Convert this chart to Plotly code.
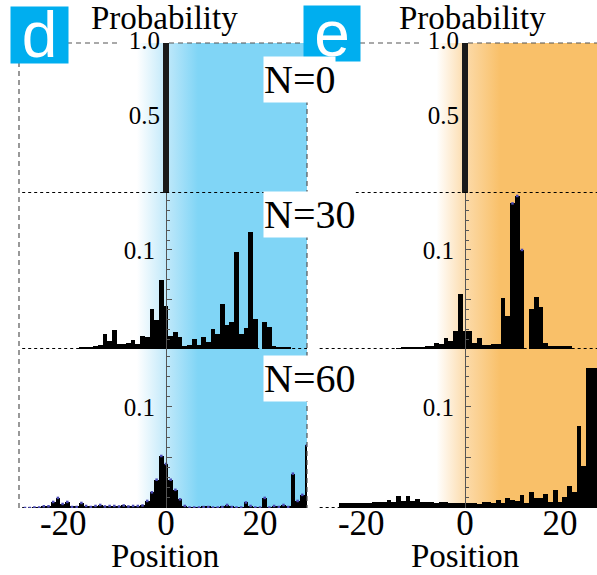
import plotly.graph_objects as go

W, H = 597, 575

# ---------------- data ----------------
pos_n0 = [0]
prob_n0 = [1.0]

pos_d30 = list(range(-18, 27))
prob_d30 = [0.002, 0.002, 0.0025, 0.003, 0.004, 0.0148, 0.0084, 0.019, 0.005, 0.005,
            0.0064, 0.009, 0.005, 0.013, 0.0125, 0.040, 0.029, 0.070, 0.043, 0.013,
            0.017, 0.012, 0.003, 0.004, 0.010, 0.004, 0.012, 0.007, 0.020, 0.015,
            0.045, 0.024, 0.027, 0.098, 0.015, 0.0216, 0.118, 0.030, 0.0, 0.0276,
            0.022, 0.003, 0.002, 0.002, 0.002]

pos_d60 = list(range(-30, 31))
prob_d60 = [0.0, 0.0, 0.0005, 0.0005, 0.0017, 0.0017, 0.006, 0.010, 0.004, 0.006,
            0.001, 0.001, 0.005, 0.002, 0.001, 0.002, 0.003, 0.0015, 0.002, 0.002,
            0.0015, 0.0025, 0.0015, 0.002, 0.002, 0.0025, 0.007, 0.0155, 0.028, 0.0515,
            0.0436, 0.028, 0.018, 0.0086, 0.002, 0.0005, 0.0005, 0.0005, 0.001, 0.001,
            0.0005, 0.0005, 0.001, 0.003, 0.001, 0.0005, 0.0005, 0.0055, 0.002, 0.0005,
            0.0005, 0.010, 0.0005, 0.002, 0.001, 0.003, 0.001, 0.034, 0.007, 0.013,
            0.062]

pos_e30 = list(range(-14, 23))
prob_e30 = [0.001, 0.0022, 0.0022, 0.0022, 0.0025, 0.0025, 0.003, 0.003, 0.0064, 0.0047,
            0.0108, 0.0084, 0.0185, 0.056, 0.0185, 0.0185, 0.0057, 0.011, 0.0037, 0.004,
            0.005, 0.005, 0.051, 0.0337, 0.147, 0.1545, 0.100, 0.0, 0.040, 0.053,
            0.0424, 0.0057, 0.003, 0.003, 0.003, 0.003, 0.003]

pos_e60 = list(range(-26, 29))
prob_e60 = [0.0046, 0.0046, 0.0046, 0.0046, 0.0046, 0.0046, 0.0046, 0.0056, 0.0056, 0.006,
            0.008, 0.006, 0.012, 0.007, 0.0115, 0.007, 0.0086, 0.006, 0.006, 0.0056,
            0.005, 0.0056, 0.0056, 0.005, 0.005, 0.0046, 0.0046, 0.0046, 0.0046, 0.0036,
            0.006, 0.006, 0.0046, 0.008, 0.0046, 0.0096, 0.008, 0.0066, 0.0125, 0.005,
            0.0158, 0.0096, 0.0096, 0.0135, 0.0063, 0.0175, 0.0063, 0.011, 0.0218, 0.016,
            0.081, 0.042, 0.139, 0.139, 0.139]

step_labels = ["N=0", "N=30", "N=60"]
panel_letters = ["d", "e"]
x_tickvals = [-20, 0, 20]
x_ticktext = ["-20\u2007", "0", "20"]
row1_ticks = [0.5, 1.0]
row1_ticktext = ["0.5", "1.0"]
small_ticks = [0.05, 0.1]
small_ticktext = ["", "0.1"]

# ---------------- styles / geometry ----------------
BLUE = "#80d5f6"
ORANGE = "#f9c069"
LETTER_BG = "#00aeef"
SERIF = "Liberation Serif"
SANS = "Liberation Sans"


def fx(px):
    return px / W


def fy(py):
    return 1 - py / H


panels = [
    dict(x0=19, x1=307, zero=166, scale=4.7, color=BLUE,
         g0=-6.2, g1=6.8, mid="#c2e9fa"),
    dict(x0=316, x1=597, zero=465, scale=4.75, color=ORANGE,
         g0=-6.0, g1=7.4, mid="#fcdaa8"),
]
for p in panels:
    p["range"] = [(p["x0"] - p["zero"]) / p["scale"], (p["x1"] - p["zero"]) / p["scale"]]

rows = [(43, 193), (193, 349), (349, 508)]
row_top = [1.0, 0.1575, 0.1574]

series = [
    [(pos_n0, prob_n0), (pos_d30, prob_d30), (pos_d60, prob_d60)],
    [(pos_n0, prob_n0), (pos_e30, prob_e30), (pos_e60, prob_e60)],
]

fig = go.Figure()
layout = {}

# background gradient subplots (x,y) and (x2,y2)
for k, p in enumerate(panels):
    sid = "" if k == 0 else "2"
    layout["xaxis" + sid] = dict(domain=[fx(p["x0"]), fx(p["x1"])], range=p["range"],
                                 visible=False, fixedrange=True, automargin=False)
    layout["yaxis" + sid] = dict(domain=[fy(508), fy(43)], range=[0, 1],
                                 visible=False, fixedrange=True, automargin=False)
    fig.add_trace(go.Scatter(
        x=[p["g0"], 40, 40, p["g0"], p["g0"]], y=[0, 0, 1, 1, 0],
        xaxis="x" + sid, yaxis="y" + sid, mode="lines", line=dict(width=0),
        fill="toself",
        fillgradient=dict(type="horizontal", start=p["g0"], stop=p["g1"],
                          colorscale=[[0, "#ffffff"], [0.47, p["mid"]], [1, p["color"]]]),
        hoverinfo="skip", showlegend=False))

# data subplots
for r, (top_px, bot_px) in enumerate(rows):
    for k, p in enumerate(panels):
        idx = 3 + 2 * r + k
        xa, ya = "x%d" % idx, "y%d" % idx
        xd = dict(domain=[fx(p["x0"]), fx(p["x1"])], range=p["range"], anchor=ya,
                  showgrid=False, zeroline=False, showline=False, ticks="",
                  fixedrange=True, showticklabels=False, automargin=False)
        if r == 2:
            xd.update(showticklabels=True, tickvals=x_tickvals, ticktext=x_ticktext,
                      tickfont=dict(family=SERIF, size=35, color="black"),
                      ticklabelstandoff=-9)
        layout["xaxis%d" % idx] = xd
        yd = dict(domain=[fy(bot_px), fy(top_px)], range=[0, row_top[r]],
                  anchor="free", position=fx(p["zero"]), side="left",
                  showgrid=False, zeroline=False, fixedrange=True, automargin=False,
                  tickfont=dict(family=SERIF, size=25, color="black"),
                  ticklabelstandoff=6)
        if r == 0:
            yd.update(tickvals=row1_ticks, ticktext=row1_ticktext, ticks="",
                      showline=False, ticklabelshift=-3)
        else:
            yd.update(tickvals=small_ticks, ticktext=small_ticktext, ticks="inside",
                      showline=True, linecolor="#555555", linewidth=1,
                      ticklen=5, tickcolor="#555555", tickwidth=1,
                      minor=dict(dtick=0.01, ticks="inside", ticklen=3,
                                 tickcolor="#555555", tickwidth=1, showgrid=False))
        layout["yaxis%d" % idx] = yd

        xs, ys = series[k][r]
        # dotted zero line
        fig.add_trace(go.Scatter(x=[-30.6, 30.5], y=[0, 0], xaxis=xa, yaxis=ya,
                                 mode="lines", cliponaxis=False,
                                 line=dict(color="black", width=2, dash="dot"),
                                 hoverinfo="skip", showlegend=False))
        fig.add_trace(go.Bar(x=xs, y=ys, xaxis=xa, yaxis=ya,
                             width=1.25 if r == 0 else 1,
                             marker=dict(color="#1a1a1a" if r == 0 else "black",
                                         line=dict(width=0)),
                             showlegend=False))
        if (k == 0 and r == 2) or (k == 1 and r == 1):
            sel = [(a, b) for a, b in zip(xs, ys) if (k == 0 or b > 0.09)]
            fig.add_trace(go.Scatter(x=[a for a, _ in sel], y=[b for _, b in sel],
                                     xaxis=xa, yaxis=ya, mode="markers",
                                     marker=dict(symbol="square", size=2.5,
                                                 color="#4a4ab4"),
                                     hoverinfo="skip", showlegend=False))

# dashed frame lines
dash_line = dict(color="#555555", width=1.2, dash="5px,4px")
segments = [
    (67, 43, 120, 43), (169, 43, 303, 43), (360, 43, 421, 43), (468, 43, 597, 43),
    (19, 62, 19, 508), (307, 100, 307, 508),
]
shapes = []
for (a, b, c, d) in segments:
    shapes.append(dict(type="line", xref="paper", yref="paper",
                       x0=fx(a), y0=fy(b), x1=fx(c), y1=fy(d), line=dash_line, layer="above"))

annotations = []
# panel letters on coloured boxes (box = annotation background)
for letter, (bx, by, bw, bh, dy) in zip(panel_letters,
                                        [(10, 6, 57, 56, 0), (303, 5, 56, 55, -3)]):
    annotations.append(dict(text=letter, x=fx(bx), y=fy(by), xref="paper", yref="paper",
                            xanchor="left", yanchor="top", showarrow=False,
                            width=bw, height=bh, bgcolor=LETTER_BG, borderpad=0,
                            valign="middle", align="center", yshift=0,
                            font=dict(family=SANS, size=64, color="white")))
for cx in [164, 472]:
    annotations.append(dict(text="Probability", x=fx(cx), y=fy(18), xref="paper",
                            yref="paper", xanchor="center", yanchor="middle",
                            showarrow=False, font=dict(family=SERIF, size=33, color="black")))
for cx in [165, 465]:
    annotations.append(dict(text="Position", x=fx(cx), y=fy(556), xref="paper",
                            yref="paper", xanchor="center", yanchor="middle",
                            showarrow=False, font=dict(family=SERIF, size=33, color="black")))
for lab, cy in zip(step_labels, [80, 214, 378]):
    annotations.append(dict(text=lab, x=fx(263), y=fy(cy), xref="paper", yref="paper",
                            xanchor="left", yanchor="middle", showarrow=False,
                            bgcolor="white", borderpad=0,
                            font=dict(family=SERIF, size=40, color="black")))

fig.update_layout(width=W, height=H, margin=dict(l=0, r=0, t=0, b=0, autoexpand=False),
                  paper_bgcolor="white", plot_bgcolor="rgba(0,0,0,0)",
                  showlegend=False, bargap=0, shapes=shapes, annotations=annotations,
                  **layout)

fig.write_html("out.html", config={"displayModeBar": False},
               post_script="document.body.style.margin='0';"
                           "document.body.style.overflow='hidden';")
